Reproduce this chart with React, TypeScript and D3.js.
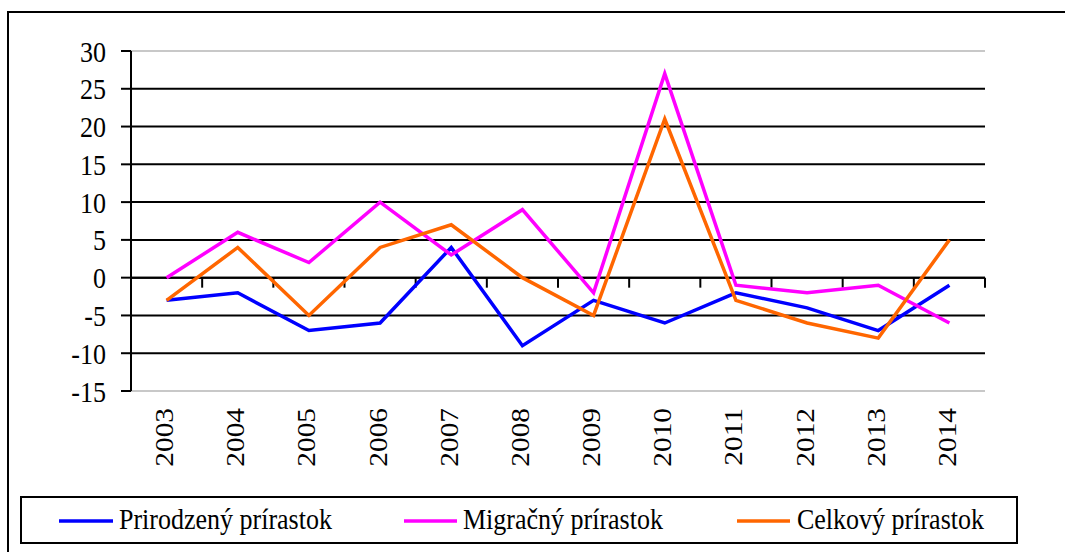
import { useMemo } from 'react';
import * as d3 from 'd3';

// Data
const YEARS = ['2003', '2004', '2005', '2006', '2007', '2008', '2009', '2010', '2011', '2012', '2013', '2014'];
const PRIRODZENY = [-3, -2, -7, -6, 4, -9, -3, -6, -2, -4, -7, -1];
const MIGRACNY = [0, 6, 2, 10, 3, 9, -2, 27, -1, -2, -1, -6];
const CELKOVY = [-3, 4, -5, 4, 7, 0, -5, 21, -3, -6, -8, 5];
const Y_TICKS = [30, 25, 20, 15, 10, 5, 0, -5, -10, -15];

const SERIES = [
  { name: 'Prirodzený prírastok', values: PRIRODZENY, color: '#0000ff' },
  { name: 'Migračný prírastok', values: MIGRACNY, color: '#ff00ff' },
  { name: 'Celkový prírastok', values: CELKOVY, color: '#ff6600' },
];

const WIDTH = 1065;
const HEIGHT = 552;
const FONT_SIZE = 26;
const STRETCH = 1.13; // the reference text is a little taller than wide

// legend placement (line start x, line end x, text start x)
const LEGEND_POS = [
  { x1: 59, x2: 113, tx: 119 },
  { x1: 404, x2: 457, tx: 463 },
  { x1: 737, x2: 790, tx: 797 },
];

const textStyle = { fontFamily: 'Liberation Serif', fontSize: FONT_SIZE };

export default function App() {
  const plot = { left: 131, right: 985, top: 51, bottom: 391 };

  const xScale = useMemo(
    () => d3.scaleBand<string>().domain(YEARS).range([plot.left, plot.right]),
    []
  );
  const yScale = useMemo(
    () => d3.scaleLinear().domain([-15, 30]).range([plot.bottom, plot.top]),
    []
  );

  const cx = (yr: string) => (xScale(yr) ?? 0) + xScale.bandwidth() / 2;

  const line = d3
    .line<number>()
    .x((_, i) => cx(YEARS[i]))
    .y((d) => yScale(d));

  const zeroY = yScale(0);

  return (
    <svg
      width={WIDTH}
      height={HEIGHT}
      style={{ position: 'absolute', left: 0, top: 0, background: '#fff' }}
    >
      {/* outer frame */}
      <rect x={8} y={12} width={1080} height={580} fill="none" stroke="#000" strokeWidth={2} />

      {/* gridlines */}
      {Y_TICKS.map((t) => {
        const edge = t === 30 || t === -15;
        return (
          <line
            key={`g${t}`}
            x1={plot.left}
            x2={plot.right}
            y1={yScale(t)}
            y2={yScale(t)}
            stroke={edge ? '#c8c8c8' : '#000'}
            strokeWidth={2}
          />
        );
      })}

      {/* y axis */}
      <line x1={plot.left} x2={plot.left} y1={plot.top} y2={plot.bottom} stroke="#000" strokeWidth={2} />
      {Y_TICKS.map((t) => (
        <g key={`yt${t}`}>
          <line x1={plot.left - 10} x2={plot.left} y1={yScale(t)} y2={yScale(t)} stroke="#000" strokeWidth={2} />
          <text
            transform={`translate(106,${yScale(t) + 10.5}) scale(1,${STRETCH})`}
            textAnchor="end"
            style={textStyle}
            fill="#000"
          >
            {t}
          </text>
        </g>
      ))}

      {/* x axis at zero */}
      <line x1={plot.left} x2={plot.right} y1={zeroY} y2={zeroY} stroke="#000" strokeWidth={2} />
      {YEARS.map((yr) => (
        <line
          key={`xt${yr}`}
          x1={(xScale(yr) ?? 0) + xScale.bandwidth()}
          x2={(xScale(yr) ?? 0) + xScale.bandwidth()}
          y1={zeroY}
          y2={zeroY + 10}
          stroke="#000"
          strokeWidth={2}
        />
      ))}

      {/* year labels */}
      {YEARS.map((yr) => (
        <text
          key={`xl${yr}`}
          transform={`translate(${cx(yr) + 6.5},408) scale(1,${STRETCH}) rotate(-90)`}
          textAnchor="end"
          style={textStyle}
          fill="#000"
        >
          {yr}
        </text>
      ))}

      {/* series */}
      {SERIES.map((s) => (
        <path
          key={s.name}
          d={line(s.values) ?? ''}
          fill="none"
          stroke={s.color}
          strokeWidth={3.5}
          strokeLinejoin="miter"
        />
      ))}

      {/* legend */}
      <rect x={21} y={497} width={996} height={46} fill="none" stroke="#000" strokeWidth={2} />
      {SERIES.map((s, i) => (
        <g key={`lg${s.name}`}>
          <line
            x1={LEGEND_POS[i].x1}
            x2={LEGEND_POS[i].x2}
            y1={521}
            y2={521}
            stroke={s.color}
            strokeWidth={3.5}
          />
          <text
            transform={`translate(${LEGEND_POS[i].tx},529) scale(1,${STRETCH})`}
            style={textStyle}
            fill="#000"
          >
            {s.name}
          </text>
        </g>
      ))}
    </svg>
  );
}
